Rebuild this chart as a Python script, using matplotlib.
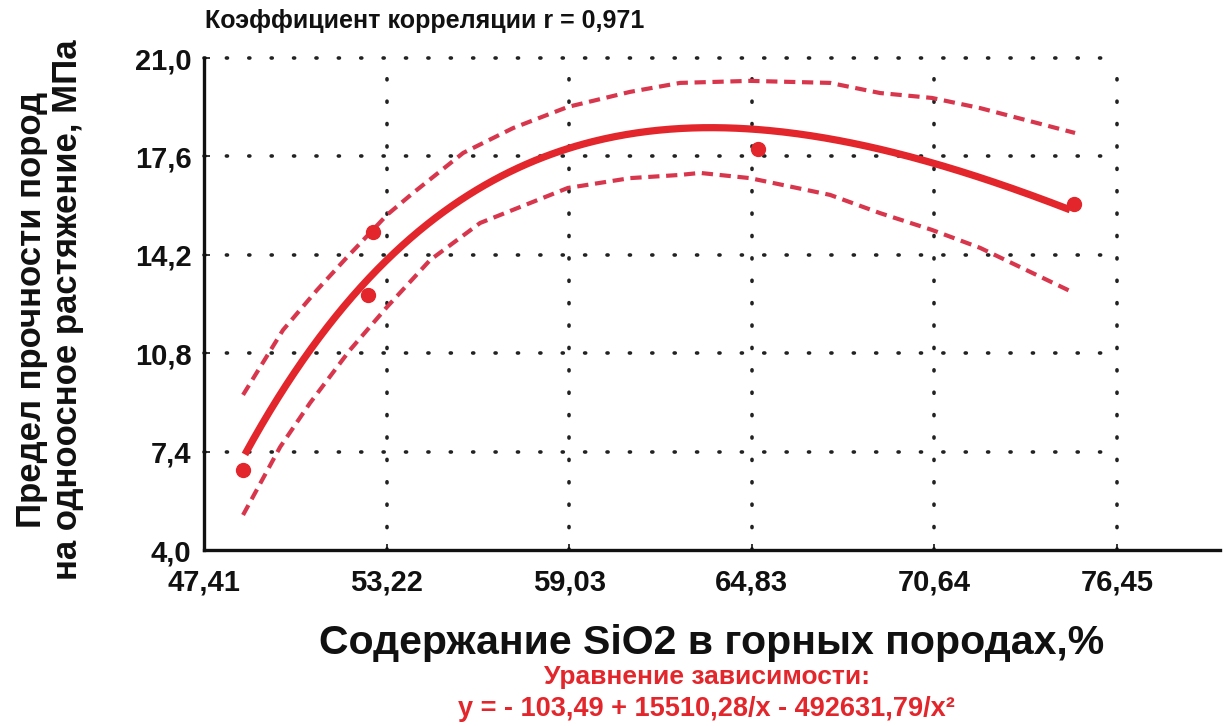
import numpy as np
import matplotlib
matplotlib.use("Agg")
import matplotlib.pyplot as plt

plt.rcParams['font.family'] = ['Liberation Sans', 'DejaVu Sans']
plt.rcParams['font.weight'] = 'bold'

# Measured samples: SiO2 content (%) and tensile strength (MPa)
sio2 = [48.65, 52.63, 52.78, 65.03, 75.08]
strength = [6.76, 12.81, 14.99, 17.86, 15.96]

# Regression y = a + b/x + c/x^2
coef_a, coef_b, coef_c = -103.49, 15510.28, -492631.79
fit_range = [48.71, 74.95]

# Confidence band limits
upper_x = [48.65, 49.92, 51.00, 51.96, 53.23, 54.06, 55.65, 57.24, 58.98,
           60.96, 62.55, 64.77, 67.32, 68.91, 70.56, 72.09, 75.11]
upper_y = [9.36, 11.60, 12.98, 14.12, 15.58, 16.34, 17.72, 18.58, 19.31,
           19.83, 20.14, 20.21, 20.14, 19.79, 19.62, 19.27, 18.41]
lower_x = [48.65, 49.83, 50.78, 52.05, 53.23, 54.60, 56.19, 58.98, 60.96,
           62.55, 63.18, 64.77, 67.32, 68.91, 70.56, 72.09, 74.95]
lower_y = [5.21, 7.56, 9.08, 10.91, 12.40, 14.02, 15.30, 16.51, 16.85,
           16.96, 17.03, 16.85, 16.27, 15.64, 15.06, 14.44, 12.95]

x_ticks = [47.41, 53.22, 59.03, 64.83, 70.64, 76.45]
y_ticks = [4.0, 7.4, 10.8, 14.2, 17.6, 21.0]
x_labels = ["47,41", "53,22", "59,03", "64,83", "70,64", "76,45"]
y_labels = ["4,0", "7,4", "10,8", "14,2", "17,6", "21,0"]

RED = "#e3262b"
BAND = "#d8364c"
INK = "#111111"

fig = plt.figure(figsize=(12.27, 7.26), dpi=100)
ax = fig.add_axes([0.1663, 0.2424, 0.828, 0.6777])
ax.set_xlim(47.41, 79.72)
ax.set_ylim(4.0, 21.0)

# dotted grid bounded by the last tick on each axis
grid_style = dict(color="#222222", lw=2.6, ls=(0, (0.3, 5.9)),
                  dash_capstyle='round', clip_on=False, zorder=1)
for xv in x_ticks[1:]:
    ax.plot([xv, xv], [y_ticks[0], y_ticks[-1]], **grid_style)
for yv in y_ticks[1:]:
    ax.plot([x_ticks[0], x_ticks[-1]], [yv, yv], **grid_style)

xs = np.linspace(fit_range[0], fit_range[1], 300)
ys = coef_a + coef_b / xs + coef_c / xs ** 2
ax.plot(xs, ys, color=RED, lw=5.2, solid_capstyle='butt', zorder=3)
ax.plot(upper_x, upper_y, color=BAND, lw=3.0, ls=(0, (2.7, 1.6)),
        dash_joinstyle='round', zorder=3)
ax.plot(lower_x, lower_y, color=BAND, lw=3.0, ls=(0, (2.7, 1.6)),
        dash_joinstyle='round', zorder=3)
ax.plot(sio2, strength, 'o', color=RED, ms=10, zorder=4)

for s in ['top', 'right']:
    ax.spines[s].set_visible(False)
for s in ['left', 'bottom']:
    ax.spines[s].set_linewidth(2.4)
    ax.spines[s].set_color(INK)

ax.set_xticks(x_ticks)
ax.set_xticklabels(x_labels)
ax.set_yticks(y_ticks)
ax.set_yticklabels(y_labels)
ax.tick_params(axis='both', direction='in', length=4, width=1.2,
               labelsize=21, colors=INK)
ax.tick_params(axis='x', pad=13)
ax.tick_params(axis='y', pad=9)
for lab in ax.get_xticklabels() + ax.get_yticklabels():
    lab.set_fontweight('bold')

ax.set_xlabel("Содержание SiO2 в горных породах,%", fontsize=29.5,
              fontweight='bold', labelpad=20, color=INK)
fig.text(0.040, 0.573, "Предел прочности пород\nна одноосное растяжение, МПа",
         rotation=90, ha='center', va='center', fontsize=25,
         fontweight='bold', linespacing=1.12, color=INK)

fig.text(0.167, 0.971, "Коэффициент корреляции r = 0,971", ha='left',
         va='center', fontsize=18, fontweight='bold', color=INK)

fig.text(0.576, 0.068, "Уравнение зависимости:", ha='center', va='center',
         fontsize=19, fontweight='bold', color=RED)
fig.text(0.576, 0.024, "y = - 103,49 + 15510,28/x - 492631,79/x²",
         ha='center', va='center', fontsize=19.5, fontweight='bold', color=RED)

fig.savefig("out.png", dpi=100)
